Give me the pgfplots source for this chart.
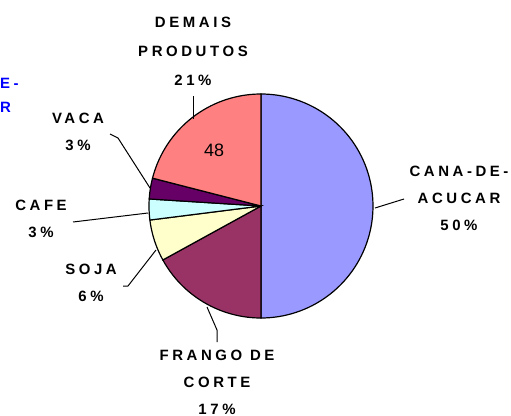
\documentclass[border=0pt]{standalone}
\usepackage{pgfplots}
\pgfplotsset{compat=1.18}
\usepackage{pgfplotstable}
\usepackage{fontspec}
\setmainfont{Liberation Sans}
\newfontfamily\lbl[LetterSpace=24]{Liberation Sans}
\definecolor{cana}{HTML}{9999FF}
\definecolor{frango}{HTML}{993366}
\definecolor{soja}{HTML}{FFFFCC}
\definecolor{cafe}{HTML}{CCFFFF}
\definecolor{vaca}{HTML}{660066}
\definecolor{demais}{HTML}{FF8080}
\pgfplotstableread{
name share
cana 50
frango 17
soja 6
cafe 3
vaca 3
demais 21
}\piedata
\begin{document}
\begin{tikzpicture}
\pgfplotstablegetelem{0}{share}\of\piedata
\pgfmathsetmacro\eA{90-3.6*\pgfplotsretval}
\pgfplotstablegetelem{1}{share}\of\piedata
\pgfmathsetmacro\eB{\eA-3.6*\pgfplotsretval}
\pgfplotstablegetelem{2}{share}\of\piedata
\pgfmathsetmacro\eC{\eB-3.6*\pgfplotsretval}
\pgfplotstablegetelem{3}{share}\of\piedata
\pgfmathsetmacro\eD{\eC-3.6*\pgfplotsretval}
\pgfplotstablegetelem{4}{share}\of\piedata
\pgfmathsetmacro\eE{\eD-3.6*\pgfplotsretval}
\pgfplotstablegetelem{5}{share}\of\piedata
\pgfmathsetmacro\eF{\eE-3.6*\pgfplotsretval}
\def\cx{261}\def\cy{206}\def\R{112}
\begin{axis}[
  width=511bp, height=416bp, scale only axis,
  xmin=0, xmax=511, ymin=0, ymax=416, y dir=reverse,
  axis lines=none, ticks=none, clip=false, no marks,
  samples=80,
]
\addplot[fill=cana, draw=black, line width=1.2pt, domain={\eA}:90] ({\cx+\R*cos(x)},{\cy-\R*sin(x)}) -- (\cx,\cy) -- cycle;
\addplot[fill=frango, draw=black, line width=1.2pt, domain={\eB}:{\eA}] ({\cx+\R*cos(x)},{\cy-\R*sin(x)}) -- (\cx,\cy) -- cycle;
\addplot[fill=soja, draw=black, line width=1.2pt, domain={\eC}:{\eB}] ({\cx+\R*cos(x)},{\cy-\R*sin(x)}) -- (\cx,\cy) -- cycle;
\addplot[fill=cafe, draw=black, line width=1.2pt, domain={\eD}:{\eC}] ({\cx+\R*cos(x)},{\cy-\R*sin(x)}) -- (\cx,\cy) -- cycle;
\addplot[fill=vaca, draw=black, line width=1.2pt, domain={\eE}:{\eD}] ({\cx+\R*cos(x)},{\cy-\R*sin(x)}) -- (\cx,\cy) -- cycle;
\addplot[fill=demais, draw=black, line width=1.2pt, domain={\eF}:{\eE}] ({\cx+\R*cos(x)},{\cy-\R*sin(x)}) -- (\cx,\cy) -- cycle;
% leader lines
\addplot[black, line width=1pt] coordinates {(193,96) (193,119)};
\addplot[black, line width=1pt] coordinates {(110,134) (118,138) (150,188)};
\addplot[black, line width=1pt] coordinates {(73,222) (148,213)};
\addplot[black, line width=1pt] coordinates {(123,286) (128,286) (156,250)};
\addplot[black, line width=1pt] coordinates {(217,342) (217,330) (207,307)};
\addplot[black, line width=1pt] coordinates {(375,208) (404,199)};
% labels
\tikzset{lab/.style={align=center, inner sep=0pt, font=\lbl\bfseries\fontsize{15}{27}\selectfont}}
\node[lab, font=\lbl\bfseries\fontsize{15}{29}\selectfont] at (193,51) {DEMAIS\\PRODUTOS\\21\%};
\node[lab] at (459,198) {CANA-DE-\\ACUCAR\\50\%};
\node[lab] at (217,382) {FRANGO DE\\CORTE\\17\%};
\node[lab] at (78,132) {VACA\\3\%};
\node[lab] at (41,218.5) {CAFE\\3\%};
\node[lab] at (91,283) {SOJA\\6\%};
\node[inner sep=0pt, font=\fontsize{18}{20}\selectfont] at (214,150) {48};
\node[anchor=west, inner sep=0pt, text=blue, font=\lbl\bfseries\fontsize{15}{27}\selectfont] at (0,83) {E-};
\node[anchor=west, inner sep=0pt, text=blue, font=\lbl\bfseries\fontsize{15}{27}\selectfont] at (0,107) {R};
\end{axis}
\pgfresetboundingbox
\path (0,0) rectangle (511bp,416bp);
\end{tikzpicture}
\end{document}
